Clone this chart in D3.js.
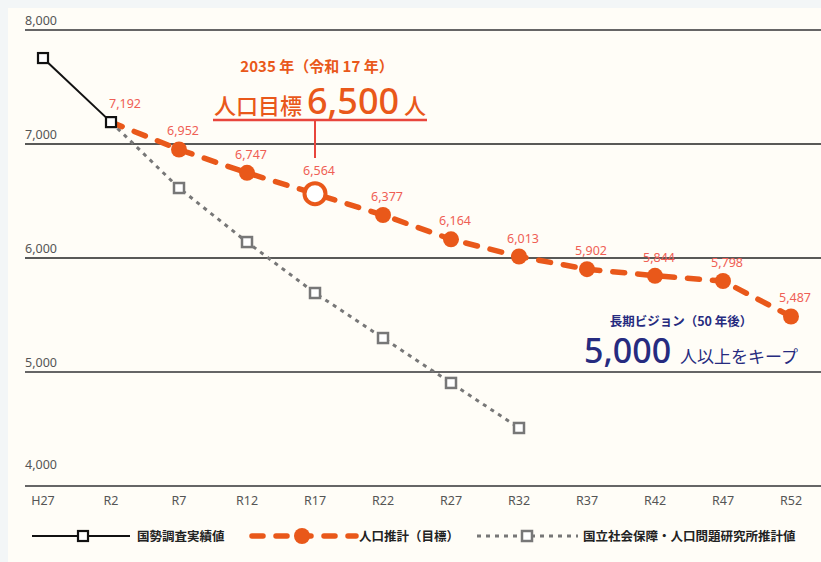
<!DOCTYPE html>
<html>
<head>
<meta charset="utf-8" />
<title>人口推計</title>
<script src="https://d3js.org/d3.v7.min.js"></script>
<style>
  body { margin: 0; background: #f3f6f7; }
  svg { display: block; }
  .tick-label { font-family: "Noto Sans", sans-serif; font-size: 12.5px; fill: #555; }
  .jp { font-family: "Noto Sans CJK JP", sans-serif; }
</style>
</head>
<body>
<svg id="chart"></svg>
<script>
var width = 821, height = 562;

// data
var categories = ["H27", "R2", "R7", "R12", "R17", "R22", "R27", "R32", "R37", "R42", "R47", "R52"];
var actualValues = [7754, 7192];
var targetValues = [null, 7192, 6952, 6747, 6564, 6377, 6164, 6013, 5902, 5844, 5798, 5487];
var ipssValues = [null, 7192, 6614, 6140, 5693, 5298, 4904, 4509];
var yTicks = [4000, 5000, 6000, 7000, 8000];
var legendLabels = ["国勢調査実績値", "人口推計（目標）", "国立社会保障・人口問題研究所推計値"];

var orange = "#e9581a", labelRed = "#ef5f55", navy = "#262b7f";

var svg = d3.select("#chart").attr("width", width).attr("height", height);

svg.append("rect").attr("x", 8).attr("y", 8)
  .attr("width", width - 8).attr("height", height - 8).attr("fill", "#fffdf7");

var x = d3.scalePoint().domain(categories).range([43, 791]);
var y = d3.scaleLinear().domain([4000, 8000]).range([486, 30]);

// grid
svg.selectAll(".grid").data(yTicks).enter().append("line")
  .attr("x1", 25).attr("x2", width)
  .attr("y1", function(d) { return y(d); })
  .attr("y2", function(d) { return y(d); })
  .attr("stroke", function(d) { return (d == 7000 || d == 6000) ? "#222" : "#666"; })
  .attr("stroke-width", function(d) { return (d == 7000 || d == 6000) ? 1.3 : 2; });

svg.selectAll(".ylab").data(yTicks).enter().append("text")
  .attr("class", "tick-label")
  .attr("x", 25)
  .attr("y", function(d) { return d == 4000 ? y(d) - 17 : y(d) - 5; })
  .text(function(d) { return d3.format(",")(d); });

svg.selectAll(".xlab").data(categories).enter().append("text")
  .attr("class", "tick-label")
  .attr("x", function(d) { return x(d); })
  .attr("y", 505)
  .attr("text-anchor", "middle")
  .text(function(d) { return d; });

function pts(values) {
  return values.map(function(v, i) { return { c: categories[i], v: v, i: i }; })
    .filter(function(d) { return d.v != null; });
}

var line = d3.line().x(function(d) { return x(d.c); }).y(function(d) { return y(d.v); });

// IPSS line
var ipss = pts(ipssValues);
svg.append("path").datum(ipss).attr("d", line)
  .attr("fill", "none").attr("stroke", "#777").attr("stroke-width", 3)
  .attr("stroke-dasharray", "4,5");
svg.selectAll(".ipss").data(ipss.slice(1)).enter().append("rect")
  .attr("x", function(d) { return x(d.c) - 5; })
  .attr("y", function(d) { return y(d.v) - 5; })
  .attr("width", 10).attr("height", 10)
  .attr("fill", "#fff").attr("stroke", "#777").attr("stroke-width", 2.5);

// target line
var target = pts(targetValues);
svg.append("path").datum(target).attr("d", line)
  .attr("fill", "none").attr("stroke", orange).attr("stroke-width", 5.5)
  .attr("stroke-linecap", "round")
  .attr("stroke-dasharray", "12,13");
svg.selectAll(".tgt").data(target.slice(1)).enter().append("circle")
  .attr("cx", function(d) { return x(d.c); })
  .attr("cy", function(d) { return y(d.v); })
  .attr("r", function(d) { return d.c == "R17" ? 10.5 : 8; })
  .attr("fill", function(d) { return d.c == "R17" ? "#fff" : orange; })
  .attr("stroke", orange)
  .attr("stroke-width", function(d) { return d.c == "R17" ? 4 : 0; });
svg.selectAll(".tlab").data(target).enter().append("text")
  .attr("x", function(d) { return x(d.c) + (d.c == "R2" ? 14 : 4); })
  .attr("y", function(d) { return y(d.v) - (d.c == "R17" ? 19 : 14); })
  .attr("text-anchor", "middle")
  .attr("font-family", "Noto Sans, sans-serif").attr("font-size", 12.5)
  .attr("fill", labelRed)
  .text(function(d) { return d3.format(",")(d.v); });

// actual line
var actual = pts(actualValues);
svg.append("path").datum(actual).attr("d", line)
  .attr("fill", "none").attr("stroke", "#111").attr("stroke-width", 2);
svg.selectAll(".act").data(actual).enter().append("rect")
  .attr("x", function(d) { return x(d.c) - 5; })
  .attr("y", function(d) { return y(d.v) - 5; })
  .attr("width", 10).attr("height", 10)
  .attr("fill", "#fff").attr("stroke", "#111").attr("stroke-width", 2.2);

// 2035 annotation
var ax = x("R17");
svg.append("text").attr("class", "jp").attr("x", ax + 2).attr("y", 72)
  .attr("text-anchor", "middle").attr("font-size", 15).attr("font-weight", "bold")
  .attr("fill", orange).text("2035 年（令和 17 年）");
var goal = svg.append("text").attr("class", "jp").attr("x", 320).attr("y", 114)
  .attr("text-anchor", "middle").attr("fill", orange).attr("font-weight", 500);
goal.append("tspan").attr("font-size", 22).text("人口目標 ");
goal.append("tspan").attr("font-size", 36).attr("font-family", "Noto Sans, sans-serif").text("6,500");
goal.append("tspan").attr("font-size", 22).text(" 人");
svg.append("line").attr("x1", 213).attr("x2", 427).attr("y1", 120).attr("y2", 120)
  .attr("stroke", "#e8453c").attr("stroke-width", 2.5);
svg.append("line").attr("x1", ax).attr("x2", ax).attr("y1", 120).attr("y2", 158)
  .attr("stroke", "#e8453c").attr("stroke-width", 2);

// long-term vision
svg.append("text").attr("class", "jp").attr("x", 681).attr("y", 326)
  .attr("text-anchor", "middle").attr("font-size", 12.5).attr("font-weight", "bold")
  .attr("fill", navy).text("長期ビジョン（50 年後）");
var vis = svg.append("text").attr("class", "jp").attr("x", 691).attr("y", 363)
  .attr("text-anchor", "middle").attr("fill", navy);
vis.append("tspan").attr("font-size", 34).attr("font-weight", 500)
  .attr("font-family", "Noto Sans, sans-serif").text("5,000 ");
vis.append("tspan").attr("font-size", 17).text("人以上をキープ");

// legend
var ly = 536;
var lg = svg.append("g").attr("class", "legend");
lg.append("line").attr("x1", 32).attr("x2", 130).attr("y1", ly).attr("y2", ly)
  .attr("stroke", "#111").attr("stroke-width", 2);
lg.append("rect").attr("x", 78).attr("y", ly - 5).attr("width", 10).attr("height", 10)
  .attr("fill", "#fff").attr("stroke", "#111").attr("stroke-width", 2.2);
lg.append("line").attr("x1", 252).attr("x2", 356).attr("y1", ly).attr("y2", ly)
  .attr("stroke", orange).attr("stroke-width", 5.5).attr("stroke-linecap", "round")
  .attr("stroke-dasharray", "11,13");
lg.append("circle").attr("cx", 302).attr("cy", ly).attr("r", 8).attr("fill", orange);
lg.append("line").attr("x1", 477).attr("x2", 578).attr("y1", ly).attr("y2", ly)
  .attr("stroke", "#777").attr("stroke-width", 3).attr("stroke-dasharray", "4,5");
lg.append("rect").attr("x", 522).attr("y", ly - 5).attr("width", 10).attr("height", 10)
  .attr("fill", "#fff").attr("stroke", "#777").attr("stroke-width", 2.5);
var lx = [137, 359, 583];
lg.selectAll("text").data(legendLabels).enter().append("text")
  .attr("class", "jp")
  .attr("x", function(d, i) { return lx[i]; })
  .attr("y", ly + 4.5)
  .attr("font-size", 12.5).attr("font-weight", "bold").attr("fill", "#222")
  .text(function(d) { return d; });
</script>
</body>
</html>
